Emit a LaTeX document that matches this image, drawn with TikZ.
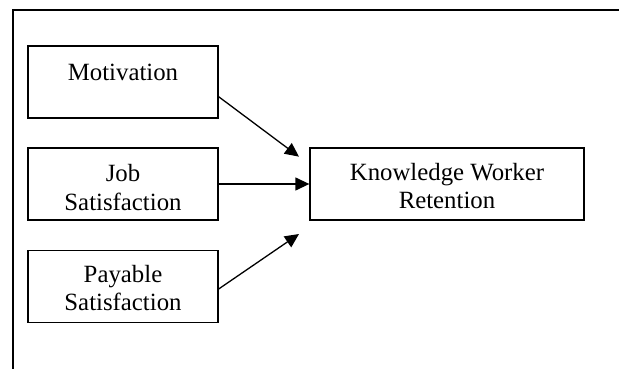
\documentclass[tikz,border=0pt]{standalone}
\usepackage{fontspec}
\setmainfont{Liberation Serif}
\usetikzlibrary{arrows.meta,calc}
\begin{document}
\begin{tikzpicture}[x=1pt,y=-1pt,
  box/.style={draw=black,line width=1.3pt,minimum width=190pt,minimum height=72pt,
    inner sep=0pt,align=center,font=\fontsize{24.8}{28.3}\selectfont,
    text height=#1pt,text depth={(72-#1)*1pt}},
  box/.default=33,
  arr/.style={line width=1.3pt,-{Triangle[length=14pt,width=13pt]}},
  frame/.style={line width=1.3pt}]
\useasboundingbox (0,0) rectangle (619,369);
\coordinate (ftl) at (13,10);
\coordinate (ftr) at (619,10);
\coordinate (fbl) at (13,369);
\draw[frame] (ftr) -- (ftl) -- (fbl);
\node[box=35] (mot) at (123,82) {Motivation};
\node[box=62] (job) at (123,184) {Job\\Satisfaction};
\node[box=60.5] (pay) at (123,286.3) {Payable\\Satisfaction};
\node[box=60.3,minimum width=274pt] (kwr) at (447,184) {Knowledge Worker\\Retention};
\coordinate (t1) at (299,156.7);
\coordinate (t3) at (299,234);
\draw[arr] ($(mot.east)+(0,14.7)$) -- (t1);
\draw[arr] (job.east) -- (kwr.west);
\draw[arr] ($(pay.east)+(0,2.7)$) -- (t3);
\end{tikzpicture}
\end{document}
